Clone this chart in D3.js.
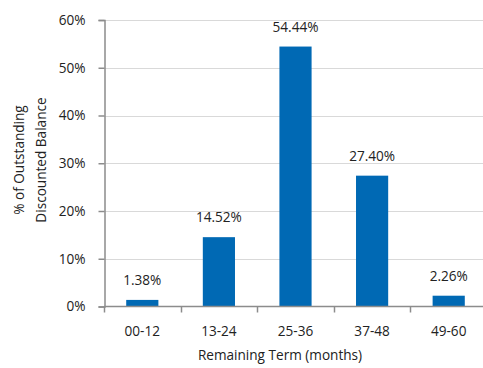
<!DOCTYPE html>
<html>
<head>
<meta charset="utf-8">
<script src="https://cdn.jsdelivr.net/npm/d3@7/dist/d3.min.js"></script>
<style>
  body { margin: 0; background: #fff; }
  svg { display: block; font-family: "Open Sans", sans-serif; }
</style>
</head>
<body>
<div id="chart"></div>
<script>
const categories = ['00-12', '13-24', '25-36', '37-48', '49-60'];
const values = [1.38, 14.52, 54.44, 27.40, 2.26];
const yTicks = [0, 10, 20, 30, 40, 50, 60];

const width = 483, height = 368;
const margin = { top: 20, right: -4, bottom: 62, left: 104 };
const fs = 13.6;

const svg = d3.select('#chart').append('svg')
  .attr('width', width)
  .attr('height', height);

const x = d3.scaleBand()
  .domain(categories)
  .range([margin.left, width - margin.right])
  .padding(0);

const y = d3.scaleLinear()
  .domain([0, 60])
  .range([height - margin.bottom + 0.5, margin.top]);

// gridlines
svg.append('g')
  .selectAll('line')
  .data(yTicks.filter(d => d > 0))
  .join('line')
  .attr('x1', margin.left)
  .attr('x2', width)
  .attr('y1', d => Math.round(y(d)) + 0.5)
  .attr('y2', d => Math.round(y(d)) + 0.5)
  .attr('stroke', '#d9d9d9')
  .attr('stroke-width', 1);

// bars
const barW = x.bandwidth() * 0.42;
svg.append('g')
  .selectAll('rect')
  .data(values)
  .join('rect')
  .attr('x', (d, i) => x(categories[i]) + x.bandwidth() / 2 - barW / 2)
  .attr('y', d => y(d))
  .attr('width', barW)
  .attr('height', d => y(0) - y(d))
  .attr('fill', '#0069b4');

// value labels
svg.append('g')
  .selectAll('text')
  .data(values)
  .join('text')
  .attr('x', (d, i) => x(categories[i]) + x.bandwidth() / 2)
  .attr('y', d => y(d) - 15)
  .attr('text-anchor', 'middle')
  .attr('font-size', fs)
  .attr('fill', '#222')
  .text(d => d.toFixed(2) + '%');

// y axis
const yAxis = d3.axisLeft(y)
  .tickValues(yTicks)
  .tickSize(6)
  .tickPadding(13)
  .tickFormat(d => d + '%');

svg.append('g')
  .attr('transform', `translate(${margin.left + 0.5},0)`)
  .call(yAxis)
  .call(g => g.selectAll('.domain').attr('stroke', '#8c8c8c').attr('stroke-width', 1.5))
  .call(g => g.selectAll('.tick line').attr('stroke', '#8c8c8c').attr('stroke-width', 1.5))
  .call(g => g.selectAll('.tick text').attr('font-size', fs).attr('fill', '#222')
    .attr('font-family', '"Open Sans", sans-serif'));

// x axis
const xTickPos = d3.scalePoint().domain(d3.range(categories.length + 1)).range(x.range());
const xg = svg.append('g')
  .attr('transform', `translate(0,${y(0)})`);
xg.append('line')
  .attr('x1', margin.left)
  .attr('x2', width)
  .attr('stroke', '#8c8c8c')
  .attr('stroke-width', 1.5);
xg.selectAll('line.tick')
  .data(d3.range(categories.length))
  .join('line')
  .attr('class', 'tick')
  .attr('x1', d => Math.round(xTickPos(d)) + 0.5)
  .attr('x2', d => Math.round(xTickPos(d)) + 0.5)
  .attr('y1', 0)
  .attr('y2', 6)
  .attr('stroke', '#8c8c8c')
  .attr('stroke-width', 1.5);
xg.selectAll('text')
  .data(categories)
  .join('text')
  .attr('x', d => x(d) + x.bandwidth() / 2)
  .attr('y', 29)
  .attr('text-anchor', 'middle')
  .attr('font-size', fs)
  .attr('fill', '#222')
  .text(d => d);

// axis titles
svg.append('text')
  .attr('x', 280)
  .attr('y', 360)
  .attr('text-anchor', 'middle')
  .attr('font-size', fs)
  .attr('fill', '#222')
  .text('Remaining Term (months)');

const yt = svg.append('text')
  .attr('transform', 'translate(0,160) rotate(-90)')
  .attr('text-anchor', 'middle')
  .attr('font-size', fs)
  .attr('fill', '#222');
yt.append('tspan').attr('x', 0).attr('y', 24).text('% of Outstanding');
yt.append('tspan').attr('x', 0).attr('y', 46).text('Discounted Balance');
</script>
</body>
</html>
